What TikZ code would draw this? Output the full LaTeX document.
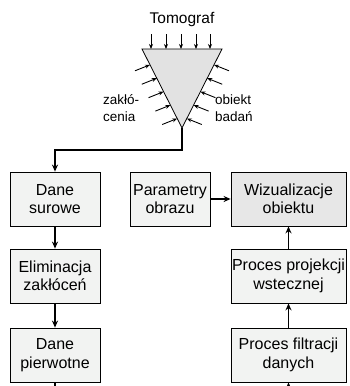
\documentclass[tikz,border=0pt]{standalone}
\usepackage{fontspec}
\setmainfont{Liberation Sans}
\usetikzlibrary{arrows.meta,calc}
\definecolor{boxgray}{HTML}{F2F3F2}
\definecolor{vizgray}{HTML}{E7E7E7}
\definecolor{trigray}{HTML}{E2E2E2}
\begin{document}
\begin{tikzpicture}[x=1pt,y=-1pt,
  box/.style={draw=black, line width=0.8pt, fill=boxgray, minimum height=54pt,
    align=center, inner sep=0pt, font=\fontsize{16}{18.5}\selectfont},
  conn/.style={line width=1.6pt, -{Stealth[length=7pt,width=6pt]}},
  small/.style={line width=0.9pt, -{Stealth[length=5pt,width=4pt]}},
  lbl/.style={inner sep=0pt, align=left, font=\fontsize{13.5}{17}\selectfont}]
\clip (0,0) rectangle (350,386);
\fill[white] (0,0) rectangle (350,386);
% triangle
\coordinate (tl) at (142,49);
\coordinate (tr) at (222,49);
\coordinate (ap) at (182,128);
\draw[line width=0.8pt, fill=trigray] (tl) -- (tr) -- (ap) -- cycle;
\node[inner sep=0pt, font=\fontsize{15.5}{18}\selectfont] (tomo) at (182,19) {Tomograf};
\foreach \x in {151,166,181,196,210}
  \draw[small] (\x,34) -- (\x,49);
\foreach \t in {0.2,0.37,0.54,0.71,0.88} {
  \draw[small] ($(tl)!\t!(ap)+(-15,6)$) -- ($(tl)!\t!(ap)$);
  \draw[small] ($(tr)!\t!(ap)+(15,6)$) -- ($(tr)!\t!(ap)$);
}
\node[lbl, anchor=west] (zak) at (103,108) {zakłó-\\cenia};
\node[lbl, anchor=west] (obi) at (215,108) {obiekt\\badań};
% boxes
\node[box, minimum width=90pt] (dsur) at (55,199) {Dane\\surowe};
\node[box, minimum width=90pt] (elim) at (55,276) {Eliminacja\\zakłóceń};
\node[box, minimum width=90pt] (dpie) at (55,355) {Dane\\pierwotne};
\node[box, minimum width=80pt] (par) at (170,199) {Parametry\\obrazu};
\node[box, minimum width=115pt, fill=vizgray] (wiz) at (288.5,199) {Wizualizacje\\obiektu};
\node[box, minimum width=115pt] (proj) at (288.5,276) {Proces projekcji\\wstecznej};
\node[box, minimum width=115pt] (filt) at (288.5,355) {Proces filtracji\\danych};
% connectors
\draw[conn] (ap) -- ++(0,22) -| (dsur.north);
\draw[conn] (dsur) -- (elim);
\draw[conn] (elim) -- (dpie);
\draw[conn] (par) -- (wiz);
\draw[conn] (filt) -- (proj);
\draw[conn] (proj) -- (wiz);
\coordinate (bl) at (55,395);
\coordinate (br) at (288.5,395);
\draw[conn,-] (dpie) -- (bl);
\draw[conn] (br) -- (filt);
\end{tikzpicture}
\end{document}
